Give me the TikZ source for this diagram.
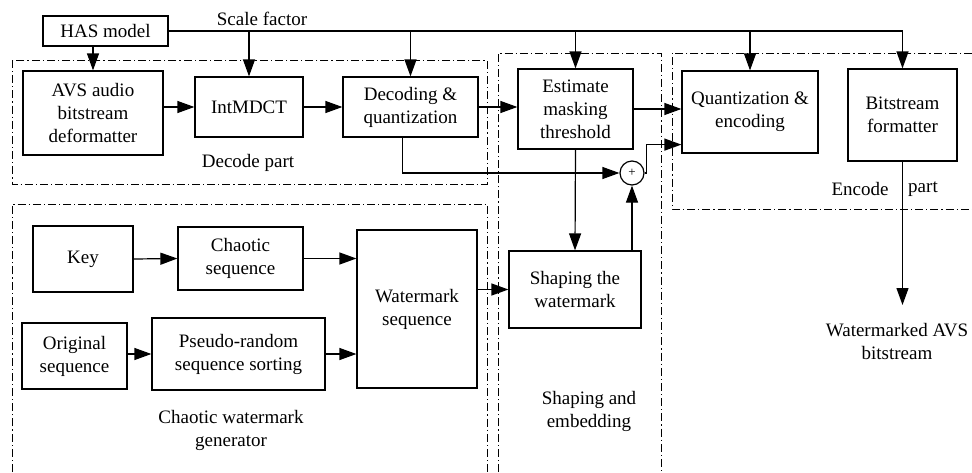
\documentclass[tikz,border=0pt]{standalone}
\usepackage{fontspec}
\setmainfont{Liberation Serif}
\newfontfamily\diagfont{Liberation Serif}
\usetikzlibrary{arrows.meta}
\begin{document}
\begin{tikzpicture}[x=1pt,y=-1pt,
  every node/.style={font=\diagfont\fontsize{19}{23}\selectfont, align=center, inner sep=0pt},
  blk/.style={draw, line width=1.2pt},
  arr/.style={line width=1.2pt, -{Triangle[length=17pt,width=12pt]}},
  wire/.style={line width=1.2pt},
  region/.style={line width=1pt, dash pattern=on 8pt off 3pt on 1.2pt off 3pt}]
\useasboundingbox (0,0) rectangle (972,472);

% dash-dot regions
\draw[region] (12,60) rectangle (487,184);
\draw[region] (12,472) -- (12,204) -- (487,204) -- (487,472);
\draw[region] (498,472) -- (498,53) -- (661,53) -- (661,472);
\draw[region] (972,53) -- (672,53) -- (672,209) -- (972,209);

% blocks
\node[blk, minimum width=125pt, minimum height=30pt] (has) at (105.5,31) {HAS model};
\node[blk, minimum width=140pt, minimum height=84pt] (avs) at (93,113) {AVS audio\\bitstream\\deformatter};
\node[blk, minimum width=108pt, minimum height=60pt] (imdct) at (249,107) {IntMDCT};
\node[blk, minimum width=135pt, minimum height=60pt] (dec) at (410.5,107) {Decoding \&\\quantization};
\node[blk, minimum width=115pt, minimum height=80pt] (est) at (575.5,109) {Estimate\\masking\\threshold};
\node[blk, minimum width=136pt, minimum height=82pt] (quant) at (750,112) {Quantization \&\\encoding};
\node[blk, minimum width=109pt, minimum height=92pt] (bits) at (902.5,115) {Bitstream\\formatter};
\node[blk, minimum width=132pt, minimum height=77pt] (shape) at (575,289.5) {Shaping the\\watermark};
\node[blk, minimum width=100pt, minimum height=66pt] (key) at (83,259) {Key};
\node[blk, minimum width=125pt, minimum height=63pt] (chaos) at (240.5,258.5) {Chaotic\\sequence};
\node[blk, minimum width=120pt, minimum height=158pt] (wm) at (417,309) {Watermark\\sequence};
\node[blk, minimum width=105pt, minimum height=66pt] (orig) at (74.5,356) {Original\\sequence};
\node[blk, minimum width=173pt, minimum height=72pt] (prs) at (238.5,354) {Pseudo-random\\sequence sorting};
\node[draw, circle, line width=1.2pt, minimum size=24pt, font=\diagfont\fontsize{13}{13}\selectfont] (plus) at (632,173) {+};

% labels
\node (sf) at (262,19) {Scale factor};
\node (decl) at (248,163) {Decode part};
\node (encl) at (860,189) {Encode};
\node (encr) at (923,189) {part};
\node (shl) at (589,411) {Shaping and\\embedding};
\node (cwl) at (231,430) {Chaotic watermark\\generator};
\node (outl) at (897,341) {Watermarked AVS\\bitstream};
\coordinate (out) at (902.5,305);

% scale-factor bus
\draw[wire] (has.east) -- (bits.north |- has.east);
\draw[arr] (imdct.north |- has.east) -- (imdct.north);
\draw[arr] (dec.north |- has.east) -- (dec.north);
\draw[arr] (est.north |- has.east) -- (est.north);
\draw[arr] (quant.north |- has.east) -- (quant.north);
\draw[arr] (bits.north |- has.east) -- (bits.north);
\draw[arr] (avs.north |- has.south) -- (avs.north);

% decode chain
\draw[arr] (avs.east |- imdct.west) -- (imdct.west);
\draw[arr] (imdct.east) -- (dec.west);
\draw[arr] (dec.east) -- (dec.east -| est.west);
\draw[arr] (est.east) -- (est.east -| quant.west);
\draw[arr] ([xshift=-8pt]dec.south) |- (plus.west);
\draw[arr] (plus.east) -- ++(2,0) |- ([yshift=9pt]quant.south west);
\draw[arr] (bits.south) -- (out);

% shaping
\draw[arr] (est.south) -- (shape.north);
\draw[arr] (plus.south |- shape.north) -- (plus.south);

% chaotic watermark generator
\draw[arr] (key.east) -- (chaos.west);
\draw[arr] (chaos.east) -- (chaos.east -| wm.west);
\draw[arr] (orig.east |- prs.west) -- (prs.west);
\draw[arr] (prs.east) -- (prs.east -| wm.west);
\draw[arr] (wm.east |- shape.west) -- (shape.west);
\end{tikzpicture}
\end{document}
